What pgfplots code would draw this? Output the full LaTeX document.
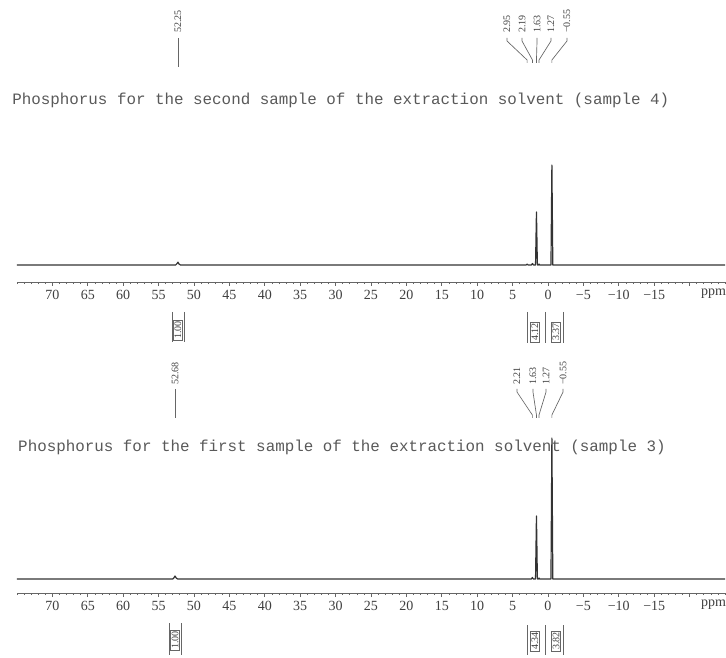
\documentclass[border=0pt]{standalone}
\usepackage{pgfplots}
\pgfplotsset{compat=1.18}
\usepackage{pgfplotstable}
\usepackage{fontspec}
\setmainfont{Liberation Serif}
\newfontfamily\monofont{Liberation Mono}

\pgfplotstableread{
ppm h
75 0
52.6 0
52.45 1.0
52.26 2.8
52.1 0.8
51.9 0
3.1 0
2.95 0.8
2.8 0
2.35 0
2.19 1.5
2.05 0
1.76 0
1.63 53
1.50 0
1.36 0
1.27 1.0
1.18 0
-0.42 0
-0.55 100
-0.68 0
-25 0
}\specfour

\pgfplotstableread{
ppm h
75 0
53.0 0
52.85 1.0
52.68 3.0
52.5 0.9
52.3 0
2.35 0
2.21 1.5
2.07 0
1.76 0
1.63 63
1.50 0
1.36 0
1.27 1.0
1.18 0
-0.42 0
-0.55 141
-0.68 0
-25 0
}\specthree

\pgfplotsset{
  nmr/.style={
    scale only axis, width=531pt,
    x dir=reverse, xmin=-25, xmax=75,
    axis x line*=bottom, axis y line=none, clip=false,
    xtick={-20,-15,...,70},
    xticklabels={{},−15,−10,−5,0,5,10,15,20,25,30,35,40,45,50,55,60,65,70},
    minor xtick={-25,-24,...,75},
    tick align=outside, major tick length=3pt, minor tick length=1.6pt,
    xticklabel style={font=\fontsize{10.5}{12}\selectfont, text=black!75, text height=1.5ex, text depth=0.25ex},
    axis line style={black!60, line width=0.6pt},
    every tick/.style={black!60, line width=0.5pt},
    extra x ticks={-23.4}, extra x tick labels={ppm},
    extra x tick style={major tick length=0pt},
  },
  spec/.style={black!80, line width=0.9pt, line join=round},
}
\tikzset{
  lbl/.style={font=\fontsize{7.5}{8.5}\selectfont, text=black!75, inner sep=0pt, rotate=90, anchor=west},
  lline/.style={black!60, line width=0.5pt},
  intg/.style={font=\fontsize{7.5}{8.5}\selectfont, text=black!75, rotate=90, draw=black!60, line width=0.4pt, inner sep=1pt},
  ttl/.style={font=\monofont\fontsize{11.9}{13}\selectfont, text=black!65, anchor=west, inner sep=0pt},
}

\begin{document}
\begin{tikzpicture}
\useasboundingbox (0,0) rectangle (544.5pt,493.5pt);

% ---------- top panel: sample 4 ----------
\begin{axis}[nmr, at={(12.75pt,282pt)}, anchor=south west,
  height=211.5pt, ymin=-17, ymax=265]
\addplot[spec] table[x=ppm, y=h] {\specfour};
% title
\node[ttl] at (axis cs:75.7,165) {Phosphorus for the second sample of the extraction solvent (sample 4)};
% peak labels
\node[lbl] at (axis cs:52.26,232) {52.25};
\draw[lline] (axis cs:52.26,227) -- (axis cs:52.26,198);
\node[lbl] at (axis cs:5.79,232) {2.95};
\node[lbl] at (axis cs:3.67,232) {2.19};
\node[lbl] at (axis cs:1.55,232) {1.63};
\node[lbl] at (axis cs:-0.42,232) {1.27};
\node[lbl] at (axis cs:-2.68,232) {−0.55};
\draw[lline] (axis cs:5.79,227) -- (axis cs:5.79,224) -- (axis cs:2.95,205) -- (axis cs:2.95,202);
\draw[lline] (axis cs:3.67,227) -- (axis cs:3.67,224) -- (axis cs:2.19,205) -- (axis cs:2.19,202);
\draw[lline] (axis cs:1.55,227) -- (axis cs:1.55,224) -- (axis cs:1.63,205) -- (axis cs:1.63,202);
\draw[lline] (axis cs:-0.42,227) -- (axis cs:-0.42,224) -- (axis cs:1.27,205) -- (axis cs:1.27,202);
\draw[lline] (axis cs:-2.68,227) -- (axis cs:-2.68,224) -- (axis cs:-0.55,205) -- (axis cs:-0.55,202);
% integrals
\node[intg] at (axis cs:52.26,-65) {1.00};
\draw[lline] (axis cs:53.1,-47) -- (axis cs:53.1,-77);
\draw[lline] (axis cs:51.4,-47) -- (axis cs:51.4,-77);
\node[intg] at (axis cs:1.84,-67) {4.12};
\node[intg] at (axis cs:-1.13,-67) {3.37};
\draw[lline] (axis cs:2.85,-47) -- (axis cs:2.85,-78);
\draw[lline] (axis cs:0.35,-47) -- (axis cs:0.35,-78);
\draw[lline] (axis cs:-2.15,-47) -- (axis cs:-2.15,-78);
\end{axis}

% ---------- bottom panel: sample 3 ----------
\begin{axis}[nmr, at={(12.75pt,48.75pt)}, anchor=south west,
  height=219.75pt, ymin=-14, ymax=279]
\addplot[spec] table[x=ppm, y=h] {\specthree};
\node[ttl] at (axis cs:74.86,132) {Phosphorus for the first sample of the extraction solvent (sample 3)};
\node[lbl] at (axis cs:52.68,194) {52.68};
\draw[lline] (axis cs:52.68,190) -- (axis cs:52.68,161);
\node[lbl] at (axis cs:4.38,194) {2.21};
\node[lbl] at (axis cs:2.12,194) {1.63};
\node[lbl] at (axis cs:0.28,194) {1.27};
\node[lbl] at (axis cs:-2.12,194) {−0.55};
\draw[lline] (axis cs:4.38,190) -- (axis cs:4.38,187) -- (axis cs:2.21,164) -- (axis cs:2.21,161);
\draw[lline] (axis cs:2.12,190) -- (axis cs:2.12,187) -- (axis cs:1.63,164) -- (axis cs:1.63,161);
\draw[lline] (axis cs:0.28,190) -- (axis cs:0.28,187) -- (axis cs:1.27,164) -- (axis cs:1.27,161);
\draw[lline] (axis cs:-2.12,190) -- (axis cs:-2.12,187) -- (axis cs:-0.55,164) -- (axis cs:-0.55,161);
\node[intg] at (axis cs:52.68,-61) {1.00};
\draw[lline] (axis cs:53.5,-44) -- (axis cs:53.5,-76);
\draw[lline] (axis cs:51.85,-44) -- (axis cs:51.85,-76);
\node[intg] at (axis cs:1.84,-62) {4.34};
\node[intg] at (axis cs:-1.13,-62) {3.82};
\draw[lline] (axis cs:2.85,-46) -- (axis cs:2.85,-76);
\draw[lline] (axis cs:0.35,-46) -- (axis cs:0.35,-76);
\draw[lline] (axis cs:-2.15,-46) -- (axis cs:-2.15,-76);
\end{axis}
\end{tikzpicture}
\end{document}
